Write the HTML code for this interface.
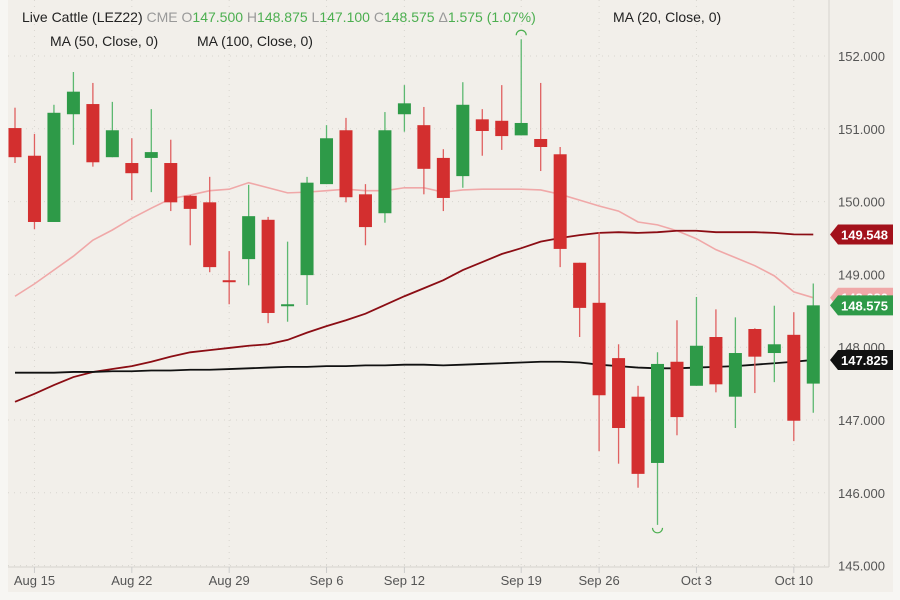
<!DOCTYPE html>
<html><head><meta charset="utf-8"><style>
body{margin:0;background:#f7f6f3;}
svg{display:block;font-family:"Liberation Sans",sans-serif;}
</style></head><body>
<svg id="chart" width="900" height="600" viewBox="0 0 900 600" xmlns="http://www.w3.org/2000/svg">
<rect x="8" y="0" width="885" height="592" fill="#f2efea"/>
<g id="grid"></g>
<g id="mas"></g>
<g id="candles"></g>
<line x1="829" y1="0" x2="829" y2="567" stroke="#d6d3ce"/>
<line x1="8" y1="567" x2="829" y2="567" stroke="#d6d3ce"/>
<g id="yaxis"></g>
<g id="xaxis"></g>
<g id="tags"></g>
<g font-size="14">
<text x="22" y="22" fill="#222">Live Cattle (LEZ22) <tspan fill="#999">CME</tspan> <tspan fill="#999">O</tspan><tspan fill="#4caf50">147.500</tspan> <tspan fill="#999">H</tspan><tspan fill="#4caf50">148.875</tspan> <tspan fill="#999">L</tspan><tspan fill="#4caf50">147.100</tspan> <tspan fill="#999">C</tspan><tspan fill="#4caf50">148.575</tspan> <tspan fill="#999">Δ</tspan><tspan fill="#4caf50">1.575 (1.07%)</tspan></text>
<text x="613" y="22" fill="#222">MA (20, Close, 0)</text>
<text x="50" y="46" fill="#222">MA (50, Close, 0)</text>
<text x="197" y="46" fill="#222">MA (100, Close, 0)</text>
</g>
</svg>
<script>
const opens =[151.01,150.63,149.72,151.20,151.34,150.61,150.53,150.60,150.53,150.08,149.99,148.92,149.21,149.75,148.58,148.99,150.24,150.98,150.10,149.84,151.20,151.05,150.60,150.35,151.13,151.11,150.91,150.86,150.65,149.16,148.61,147.85,147.32,146.41,147.80,147.47,148.14,147.32,148.25,147.92,148.17,147.50];
const highs =[151.29,150.93,151.33,151.78,151.63,151.37,150.87,151.27,150.85,150.09,150.34,149.32,150.23,149.79,149.45,150.34,151.05,151.15,150.24,151.23,151.60,151.30,150.72,151.64,151.27,151.60,152.23,151.63,150.75,149.16,149.58,148.04,147.47,147.93,148.37,148.69,148.52,148.41,148.26,148.57,148.48,148.875];
const lows  =[150.53,149.62,149.72,150.78,150.48,150.61,150.02,150.13,149.87,149.40,149.03,148.59,148.85,148.33,148.35,148.58,150.24,149.99,149.40,149.71,150.96,150.10,149.87,150.19,150.63,150.71,150.91,150.42,149.10,148.14,146.57,146.40,146.07,145.56,146.79,147.47,147.38,146.89,147.37,147.52,146.71,147.10];
const closes=[150.61,149.72,151.22,151.51,150.54,150.98,150.39,150.68,149.99,149.90,149.10,148.90,149.80,148.47,148.59,150.26,150.87,150.06,149.65,150.98,151.35,150.45,150.05,151.33,150.97,150.90,151.08,150.75,149.35,148.54,147.34,146.89,146.26,147.77,147.04,148.02,147.49,147.92,147.87,148.04,146.99,148.575];
const ma20 =[148.70,148.87,149.06,149.25,149.47,149.61,149.77,149.91,150.04,150.09,150.15,150.17,150.26,150.19,150.12,150.13,150.15,150.17,150.15,150.15,150.19,150.19,150.13,150.16,150.17,150.17,150.17,150.16,150.10,150.02,149.94,149.87,149.72,149.68,149.60,149.49,149.34,149.23,149.12,148.98,148.76,148.68];
const ma50 =[147.25,147.36,147.48,147.59,147.66,147.70,147.74,147.80,147.87,147.93,147.96,147.99,148.02,148.04,148.10,148.20,148.29,148.37,148.46,148.58,148.70,148.81,148.92,149.06,149.17,149.28,149.36,149.45,149.50,149.54,149.57,149.58,149.57,149.58,149.60,149.60,149.58,149.58,149.58,149.57,149.55,149.548];
const ma100=[147.65,147.65,147.65,147.66,147.66,147.67,147.67,147.68,147.68,147.69,147.69,147.70,147.71,147.72,147.73,147.73,147.74,147.74,147.75,147.75,147.76,147.76,147.75,147.76,147.77,147.78,147.79,147.80,147.80,147.79,147.76,147.74,147.72,147.71,147.71,147.72,147.73,147.74,147.76,147.78,147.80,147.825];
const yTicks=[145,146,147,148,149,150,151,152];
const xLabels=["Aug 15","Aug 22","Aug 29","Sep 6","Sep 12","Sep 19","Sep 26","Oct 3","Oct 10"];
const xLabelIdx=[1,6,11,16,20,26,30,35,40];

const NS="http://www.w3.org/2000/svg";
const y=v=>56+(152-v)*72.8;
const x=i=>15+i*19.47;
function mk(tag,attrs,parent){const e=document.createElementNS(NS,tag);for(const k in attrs)e.setAttribute(k,attrs[k]);parent.appendChild(e);return e;}
const grid=document.getElementById('grid'),ya=document.getElementById('yaxis'),xa=document.getElementById('xaxis');
yTicks.forEach(t=>{
  const l=mk('line',{x1:8,x2:829,y1:y(t),y2:y(t),stroke:'#d8d5cf','stroke-dasharray':'1 5'},grid);
  
  
  const tx=mk('text',{x:838,y:y(t)+5,'font-size':13,fill:'#555'},ya);
  
  
  tx.textContent=t.toFixed(3);
});
xLabelIdx.forEach((idx,k)=>{
  const l=mk('line',{x1:x(idx),x2:x(idx),y1:0,y2:567,stroke:'#d8d5cf','stroke-dasharray':'1 5'},grid);
  
  
  const tk=mk('line',{x1:x(idx),x2:x(idx),y1:567,y2:573,stroke:'#ccc'},xa);
  
  
  const tx=mk('text',{x:x(idx),y:585,'font-size':13,fill:'#555','text-anchor':'middle'},xa);
  
  
  tx.textContent=xLabels[k];
});
const mas=document.getElementById('mas');
[[ma20,'#f0a8a8',1.6,'ma20-line'],[ma50,'#8b0d14',1.8,'ma50-line'],[ma100,'#111',1.8,'ma100-line']].forEach(([arr,c,w,n])=>{
  const p=mk('polyline',{points:arr.map((v,i)=>x(i)+','+y(v)).join(' '),fill:'none',stroke:c,'stroke-width':w},mas);
  
  
});
const cg=document.getElementById('candles');
opens.forEach((o,i)=>{
  const c=closes[i],up=c>=o,col=up?'#2e9a48':'#d32f2f';
  const g=mk('g',{},cg);
  
  
  mk('line',{x1:x(i),x2:x(i),y1:y(highs[i]),y2:y(lows[i]),stroke:up?'#5cb870':'#e06060','stroke-width':1.3},g);
  const top=y(Math.max(o,c)),h=Math.max(2,Math.abs(y(o)-y(c)));
  mk('rect',{x:x(i)-6.5,y:top,width:13,height:h,fill:col},g);
});
// high/low markers
let hi=highs.indexOf(Math.max(...highs)),lo=lows.indexOf(Math.min(...lows));
const m1=mk('path',{d:`M${x(hi)-5},${y(highs[hi])-4} a5,5 0 0 1 10,0`,fill:'none',stroke:'#4caf50','stroke-width':1.2},cg);


const m2=mk('path',{d:`M${x(lo)-5},${y(lows[lo])+3} a5,5 0 0 0 10,0`,fill:'none',stroke:'#4caf50','stroke-width':1.2},cg);


// price tags
const tags=document.getElementById('tags');
function tag(v,bg,n){
  const g=mk('g',{},tags);
  
  
  const yy=y(v);
  mk('path',{d:`M830,${yy} L838,${yy-10} L893,${yy-10} L893,${yy+10} L838,${yy+10} Z`,fill:bg},g);
  const t=mk('text',{x:841,y:yy+5,'font-size':13,'font-weight':'bold',fill:'#fff'},g);
  t.textContent=v.toFixed(3);
}
tag(ma20[ma20.length-1],'#f0a8a8','ma20-tag');
tag(ma50[ma50.length-1],'#a3111b','ma50-tag');
tag(closes[closes.length-1],'#2e9a48','last-price-tag');
tag(ma100[ma100.length-1],'#111','ma100-tag');
</script>
</body></html>
